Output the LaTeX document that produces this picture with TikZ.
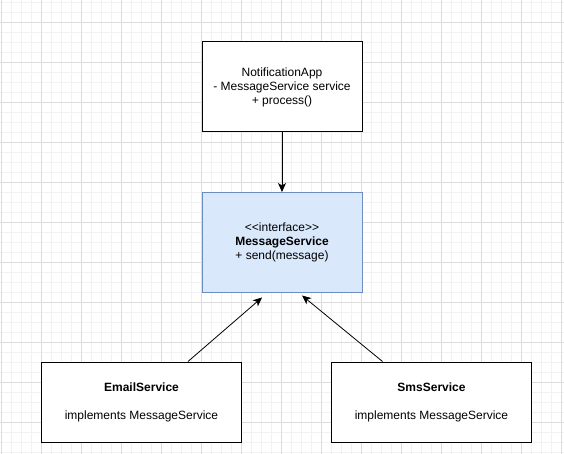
\documentclass[tikz,border=0pt]{standalone}
\usepackage{fontspec}
\setmainfont{Liberation Sans}
\usetikzlibrary{arrows.meta}

\definecolor{gridminor}{HTML}{F2F2F2}
\definecolor{gridmajor}{HTML}{DCDCDC}
\definecolor{ifacefill}{HTML}{DAE8FC}
\definecolor{ifacedraw}{HTML}{6C8EBF}

\tikzset{
  classbox/.style={draw=black, line width=1pt, fill=white, align=center, inner sep=0pt,
    font=\fontsize{12}{14}\selectfont},
  ifacebox/.style={classbox, draw=ifacedraw, fill=ifacefill},
  realize/.style={line width=0.8pt, -{Stealth[length=9pt,width=8pt,inset=2.5pt]}},
}

\begin{document}
\begin{tikzpicture}[x=1pt, y=-1pt]
  % Parameters definitions
  \def\boxw{160} % Width of the upper boxes
  \def\implw{200} % Width of the implementing classes
  \def\implh{80} % Height of the implementing classes

  \useasboundingbox (0,0) rectangle (564,454);

  % Grid
  \foreach \x in {1,11,...,561} \draw[gridminor, line width=0.8pt] (\x,0) -- (\x,454);
  \foreach \y in {2,12,...,452} \draw[gridminor, line width=0.8pt] (0,\y) -- (564,\y);
  \foreach \x in {1,41,...,561} \draw[gridmajor, line width=0.8pt] (\x,0) -- (\x,454);
  \foreach \y in {22,62,...,422} \draw[gridmajor, line width=0.8pt] (0,\y) -- (564,\y);
  % Grid END

  % Classes
  \node[classbox, minimum width=\boxw, minimum height=90] (notif) at (282,87)
    {NotificationApp\\- MessageService service\\+ process()};
  \node[ifacebox, minimum width=\boxw, minimum height=100] (msg) at (282,242.5)
    {<\kern0pt<interface>\kern0pt>\\\textbf{MessageService}\\+ send(message)};
  \node[classbox, minimum width=\implw, minimum height=\implh] (email) at (141.5,402)
    {\textbf{EmailService}\\[14pt]implements MessageService};
  \node[classbox, minimum width=\implw, minimum height=\implh] (sms) at (431.5,402)
    {\textbf{SmsService}\\[14pt]implements MessageService};

  % Arrow ends
  \coordinate (emailout) at ([xshift=46.5pt]email.north);
  \coordinate (emailin) at ([xshift=-20pt, yshift=-4.5pt]msg.south);
  \coordinate (smsout) at ([xshift=-49pt]sms.north);
  \coordinate (smsin) at ([xshift=20pt, yshift=-2.5pt]msg.south);

  \draw[realize] (notif) -- (msg);
  \draw[realize] (emailout) -- (emailin);
  \draw[realize] (smsout) -- (smsin);
\end{tikzpicture}
\end{document}
